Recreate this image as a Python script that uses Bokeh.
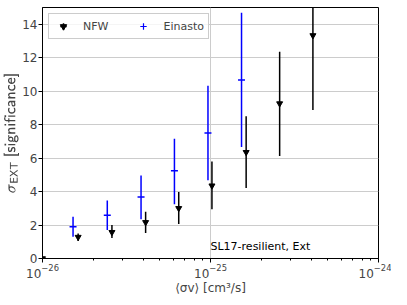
from bokeh.plotting import figure
from bokeh.models import (ColumnDataSource, Legend, LegendItem, Label, LogTicker,
                          FixedTicker, Range1d)
from bokeh.embed import file_html
from bokeh.resources import INLINE

# ---- data ----
nfw_x = [1.0e-26, 1.63e-26, 2.59e-26, 4.11e-26, 6.47e-26, 1.02e-25, 1.63e-25, 2.58e-25, 4.07e-25]
nfw_y = [0.0, 1.28, 1.57, 2.16, 3.00, 4.35, 6.35, 9.26, 13.33]
nfw_lo = [0.0, 1.04, 1.22, 1.53, 2.06, 2.94, 4.22, 6.12, 8.88]
nfw_hi = [0.0, 1.50, 2.00, 2.79, 3.98, 5.79, 8.50, 12.35, 17.5]

ein_x = [1.52e-26, 2.43e-26, 3.86e-26, 6.10e-26, 9.66e-26, 1.53e-25]
ein_y = [1.90, 2.59, 3.67, 5.24, 7.50, 10.67]
ein_lo = [1.30, 1.70, 2.35, 3.24, 4.67, 6.67]
ein_hi = [2.50, 3.47, 4.96, 7.16, 10.33, 14.69]

y_ticks = [0, 2, 4, 6, 8, 10, 12, 14]
annotation = "SL17-resilient, Ext"
x_label = "⟨σv⟩ [cm³/s]"

FONT = "DejaVu Sans"

p = figure(width=391, height=297, x_axis_type="log",
           x_range=Range1d(1e-26, 1e-24), y_range=Range1d(0, 15),
           output_backend="svg", toolbar_location=None,
           min_border_left=36, min_border_right=13, min_border_top=7, min_border_bottom=35)

nfw_src = ColumnDataSource(dict(x=nfw_x, y=nfw_y, lo=nfw_lo, hi=nfw_hi))
ein_src = ColumnDataSource(dict(x=ein_x, y=ein_y, lo=ein_lo, hi=ein_hi))

ein_seg = p.segment(x0="x", y0="lo", x1="x", y1="hi", source=ein_src, line_color="blue", line_width=1.5)
ein_mk = p.scatter(x="x", y="y", source=ein_src, marker="dash", size=7, line_color="blue", line_width=1.5)

nfw_seg = p.segment(x0="x", y0="lo", x1="x", y1="hi", source=nfw_src, line_color="black", line_width=1.5)
nfw_mk = p.scatter(x="x", y="y", source=nfw_src, marker="inverted_triangle", size=6,
                   fill_color="black", line_color="black")

# legend-only glyphs (one point placed far outside the visible range)
off = ColumnDataSource(dict(x=[1e-26], y=[-100.0]))
nfw_leg_bar = p.scatter(x="x", y="y", source=off, marker="cross", size=6,
                        line_color="black", line_width=1.5)
ein_leg_bar = p.scatter(x="x", y="y", source=off, marker="cross", size=6,
                        line_color="blue", line_width=1.2)
nfw_leg_mk = p.scatter(x="x", y="y", source=off, marker="inverted_triangle", size=5,
                       fill_color="black", line_color="black")

legend = Legend(items=[LegendItem(label="NFW", renderers=[nfw_leg_bar, nfw_leg_mk]),
                       LegendItem(label="Einasto", renderers=[ein_leg_bar])],
                orientation="horizontal", location="top_left",
                label_text_font=FONT, label_text_font_size="11px",
                border_line_color="#cccccc", border_line_alpha=1.0,
                background_fill_alpha=0.8, spacing=25, padding=4, margin=6,
                glyph_width=20, glyph_height=16, label_standoff=10)
p.add_layout(legend)

p.add_layout(Label(x=1e-25, y=0.35, text=annotation, text_font=FONT, text_font_size="11px",
                   text_color="black"))

# axes
p.xaxis.ticker = LogTicker(num_minor_ticks=10)
p.yaxis.ticker = FixedTicker(ticks=y_ticks)
p.yaxis.minor_tick_line_color = None
p.xaxis.axis_label = x_label
p.yaxis.axis_label = r"$$\sigma_{\mathsf{EXT}}\ \textsf{[significance]}$$"
for ax in (p.xaxis, p.yaxis):
    ax.axis_label_text_font = FONT
    ax.axis_label_text_font_style = "normal"
    ax.axis_label_text_font_size = "12px"
    ax.major_label_text_font = FONT
    ax.major_label_text_font_size = "12px"
    ax.major_tick_out = 4
    ax.major_tick_in = 0
    ax.minor_tick_out = 2
    ax.minor_tick_in = 0
    ax.axis_line_color = "black"
    ax.major_tick_line_color = "black"
    ax.major_label_standoff = 1
    ax.axis_label_standoff = 0

p.xgrid.grid_line_color = "#cccccc"
p.ygrid.grid_line_color = "#cccccc"
p.outline_line_color = "black"
p.outline_line_alpha = 1.0

open("out.html", "w").write(file_html(p, INLINE))
